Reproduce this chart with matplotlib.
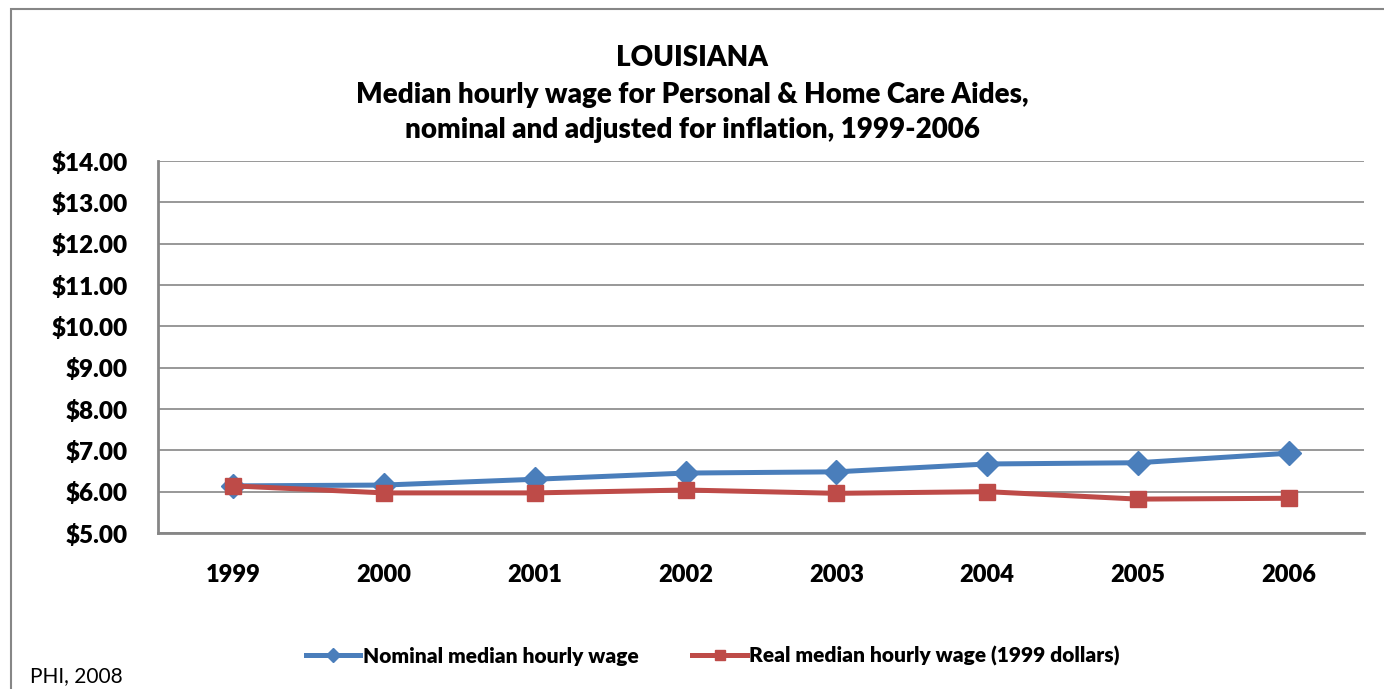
import matplotlib.pyplot as plt
from matplotlib.patches import Rectangle
from matplotlib.ticker import FuncFormatter

years = ['1999', '2000', '2001', '2002', '2003', '2004', '2005', '2006']
nominal = [6.14, 6.16, 6.30, 6.45, 6.48, 6.67, 6.70, 6.93]
real = [6.14, 5.97, 5.97, 6.04, 5.96, 6.00, 5.82, 5.84]

plt.rcParams['font.family'] = ['Lato', 'DejaVu Sans']

fig = plt.figure(figsize=(13.84, 6.89), dpi=100)
W, H = 1384, 689

# outer chart frame
fig.patches.append(Rectangle((11 / W, -0.01), 1.2, (H - 9) / H + 0.01,
                             transform=fig.transFigure, fill=False,
                             edgecolor='#868686', linewidth=1.5))

ax = fig.add_axes([158 / W, 1 - 533 / H, (1364 - 158) / W, (533 - 161) / H])
x = list(range(len(years)))

ax.plot(x, nominal, color='#4A7EBB', linewidth=3.6, marker='D',
        markersize=12.5, label='Nominal median hourly wage', zorder=3)
ax.plot(x, real, color='#BE4B48', linewidth=3.6, marker='s',
        markersize=12, label='Real median hourly wage (1999 dollars)', zorder=4)

ax.set_xlim(-0.5, 7.5)
ax.set_ylim(5, 14)
ax.set_yticks(range(5, 15))
ax.yaxis.set_major_formatter(FuncFormatter(lambda v, p: f'${v:.2f}'))
ax.set_xticks(x)
ax.set_xticklabels(years)
ax.grid(axis='y', color='#868686', linewidth=1.2)
ax.set_axisbelow(True)
for s in ['top', 'right']:
    ax.spines[s].set_visible(False)
for s in ['left', 'bottom']:
    ax.spines[s].set_color('#868686')
    ax.spines[s].set_linewidth(2)
ax.tick_params(axis='y', length=0, pad=22, labelsize=17.5)
ax.tick_params(axis='x', length=0, pad=22, labelsize=17)
for lbl in ax.get_xticklabels() + ax.get_yticklabels():
    lbl.set_fontweight('heavy')

fig.text(0.5, 1 - 58 / H, 'LOUISIANA', ha='center', va='center',
         fontsize=20, fontweight='heavy')
fig.text(0.5, 1 - 95 / H, 'Median hourly wage for Personal & Home Care Aides,',
         ha='center', va='center', fontsize=20, fontweight='heavy')
fig.text(0.5, 1 - 130 / H, 'nominal and adjusted for inflation, 1999-2006',
         ha='center', va='center', fontsize=20, fontweight='heavy')

fig.legend(loc='center', bbox_to_anchor=(0.515, 1 - 656 / H), ncol=2,
           frameon=False, handlelength=2.6, columnspacing=2.6,
           handletextpad=0.1, markerscale=0.6,
           prop={'weight': 'heavy', 'size': 15})

fig.text(30 / W, 1 - 676 / H, 'PHI, 2008', ha='left', va='center', fontsize=15)

fig.savefig('out.png', dpi=100)
